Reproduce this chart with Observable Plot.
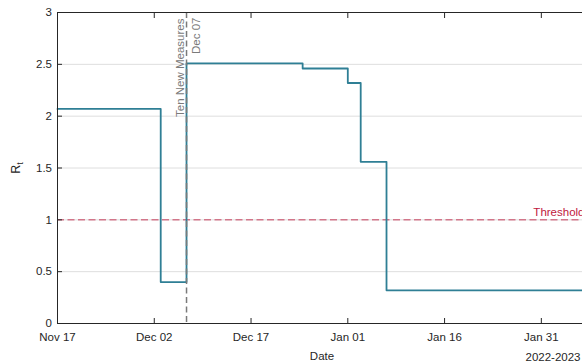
<!DOCTYPE html>
<html>
<head>
<meta charset="utf-8">
<script src="https://cdn.jsdelivr.net/npm/d3@7"></script>
<script src="https://cdn.jsdelivr.net/npm/@observablehq/plot@0.6"></script>
<style>
  html, body { margin: 0; padding: 0; background: #fff; overflow: hidden; }
  #chart { width: 582px; height: 361px; overflow: hidden; }
  #chart svg { max-width: none !important; width: 600px; height: 361px; display: block; }
</style>
</head>
<body>
<div id="chart"></div>
<script>
// Effective reproduction number, piecewise constant between policy changes
const stepDates = ["2022-11-17", "2022-12-03", "2022-12-07", "2022-12-25", "2023-01-01", "2023-01-03", "2023-01-07", "2023-02-07"];
const rtValues = [2.07, 0.40, 2.51, 2.46, 2.32, 1.56, 0.32, 0.32];

// Axis ticks
const xTickDates = ["2022-11-17", "2022-12-02", "2022-12-17", "2023-01-01", "2023-01-16", "2023-01-31"];
const yTicks = [0, 0.5, 1, 1.5, 2, 2.5, 3];
const gridTicks = [0.5, 1, 1.5, 2, 2.5];

// Reference lines
const thresholdValue = [1];
const thresholdLabel = "Threshold";
const measureDate = ["2022-12-07"];
const measureLabel = "Ten New Measures";
const measureDateLabel = "Dec 07";
const xDomain = ["2022-11-17", "2023-02-07"];
const yearLabel = "2022-2023";

const parse = d3.utcParse("%Y-%m-%d");
const series = stepDates.map((d, i) => ({date: parse(d), rt: rtValues[i]}));
const xTicks = xTickDates.map(parse);
const measure = measureDate.map(parse);

const ink = "#262626";
const lineColor = "#2f7f95";
const crimson = "#c0183c";
const gray = "#7a7a7a";

const chart = Plot.plot({
  width: 600,
  height: 361,
  marginLeft: 57,
  marginRight: 14,
  marginTop: 12,
  marginBottom: 38,
  style: {fontFamily: "'Liberation Sans', Arial, sans-serif", fontSize: "11.5px", color: ink, background: "#fff"},
  x: {type: "utc", domain: xDomain.map(parse)},
  y: {domain: [0, 3]},
  marks: [
    Plot.gridY(gridTicks, {stroke: "#dedede", strokeOpacity: 1}),
    Plot.ruleY(thresholdValue, {stroke: crimson, strokeOpacity: 0.55, strokeWidth: 1.5, strokeDasharray: "7,3.5"}),
    Plot.text(thresholdValue, {y: d => d, frameAnchor: "right", text: () => thresholdLabel, textAnchor: "end", lineAnchor: "bottom", dx: -2, dy: -4, fill: crimson, fontSize: 11.5}),
    Plot.line(series, {x: "date", y: "rt", curve: "step-after", stroke: lineColor, strokeWidth: 1.8}),
    Plot.ruleX(measure, {stroke: gray, strokeWidth: 1.5, strokeDasharray: "6,3.5"}),
    Plot.text(measure, {x: d => d, frameAnchor: "top", text: () => measureLabel, rotate: -90, textAnchor: "end", lineAnchor: "middle", dx: -6, dy: 6, fill: gray, fontSize: 11.5}),
    Plot.text(measure, {x: d => d, frameAnchor: "top", text: () => measureDateLabel, rotate: -90, textAnchor: "end", lineAnchor: "middle", dx: 10, dy: 5, fill: gray, fontSize: 11.5}),
    Plot.axisX({anchor: "bottom", ticks: xTicks, tickFormat: d3.utcFormat("%b %d"), tickSize: -5, tickPadding: 14, label: "Date", labelAnchor: "center", labelArrow: "none", labelOffset: 36, stroke: ink, fontSize: 11.5}),
    Plot.axisX({anchor: "top", ticks: xTicks, tickFormat: () => "", tickSize: -5, label: null, stroke: ink}),
    Plot.axisY({ticks: yTicks, tickFormat: d3.format("~g"), tickSize: -5, tickPadding: 10.5, label: null, stroke: ink, fontSize: 11.5}),
    Plot.text([yearLabel], {frameAnchor: "bottom-right", text: d => d, textAnchor: "end", lineAnchor: "bottom", dx: -6, dy: 37, fill: ink, fontSize: 11.5}),
    Plot.frame({stroke: ink})
  ]
});

// Y-axis title with subscript
const svg = d3.select(chart);
const yTitle = svg.append("text")
  .attr("transform", "translate(20,168) rotate(-90)")
  .attr("text-anchor", "middle")
  .attr("fill", ink)
  .attr("font-size", "12.5px");
yTitle.append("tspan").text("R");
yTitle.append("tspan").attr("font-size", "9px").attr("dy", "3").text("t");

document.getElementById("chart").append(chart);
</script>
</body>
</html>
